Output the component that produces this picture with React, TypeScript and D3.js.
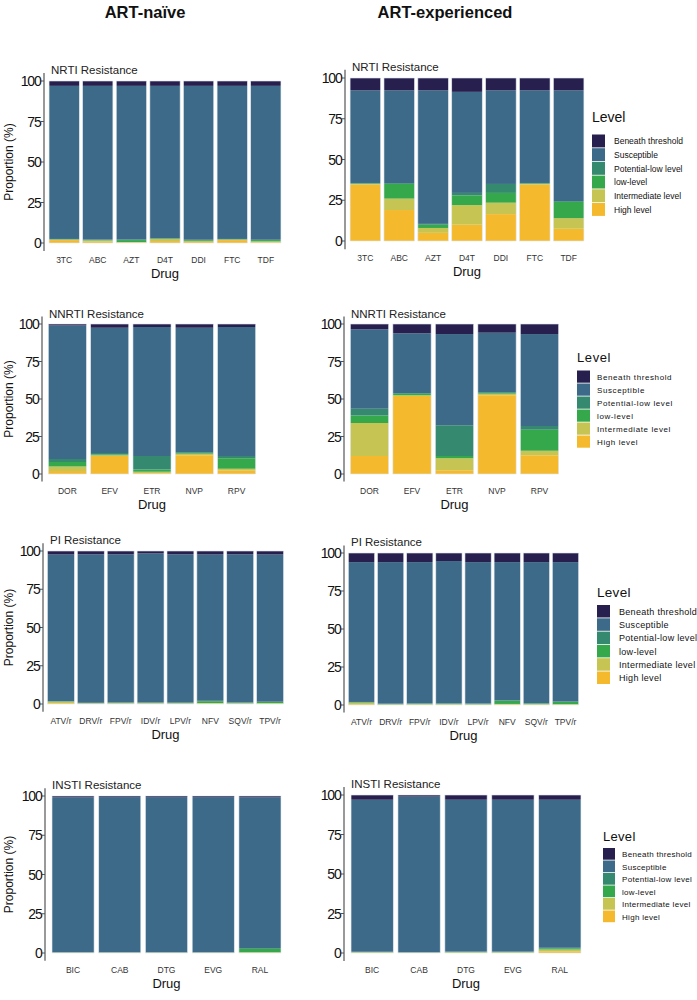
import React from "react";
import * as d3 from "d3";

// Stack order (bottom -> top)
const LEVELS = ["High level", "Intermediate level", "low-level", "Potential-low level", "Susceptible", "Beneath threshold"];
const LEVEL_COLORS = ["#f5b92e", "#c6c553", "#34a84a", "#35896f", "#3d6a88", "#27204f"];
const Y_TICKS = [0, 25, 50, 75, 100];

const NRTI_DRUGS = ["3TC", "ABC", "AZT", "D4T", "DDI", "FTC", "TDF"];
const NNRTI_DRUGS = ["DOR", "EFV", "ETR", "NVP", "RPV"];
const PI_DRUGS = ["ATV/r", "DRV/r", "FPV/r", "IDV/r", "LPV/r", "NFV", "SQV/r", "TPV/r"];
const INSTI_DRUGS = ["BIC", "CAB", "DTG", "EVG", "RAL"];

// each row: one drug; columns in LEVELS order (percent)
const NRTI_NAIVE = [
  [1.8, 0.3, 0.2, 0.2, 94.5, 3.0],
  [0.8, 0.8, 0.3, 0.2, 94.9, 3.0],
  [0.3, 0.3, 1.2, 0.3, 94.9, 3.0],
  [1.2, 1.2, 0.3, 0.3, 94.0, 3.0],
  [0.6, 0.6, 0.5, 0.3, 95.0, 3.0],
  [1.8, 0.3, 0.2, 0.2, 94.5, 3.0],
  [0.4, 0.6, 0.8, 0.2, 95.0, 3.0],
];
const NRTI_EXP = [
  [34.5, 0.5, 0.3, 0.3, 56.8, 7.6],
  [19.0, 7.0, 9.0, 0.5, 56.9, 7.6],
  [5.0, 3.0, 2.0, 0.5, 81.9, 7.6],
  [10.0, 12.0, 6.0, 1.5, 62.0, 8.5],
  [16.5, 7.0, 6.0, 5.5, 57.4, 7.6],
  [34.5, 0.5, 0.3, 0.3, 56.8, 7.6],
  [7.5, 6.5, 10.0, 0.5, 67.9, 7.6],
];
const NNRTI_NAIVE = [
  [2.0, 3.0, 3.0, 2.0, 89.0, 1.0],
  [12.0, 0.5, 0.5, 1.0, 83.5, 2.5],
  [0.5, 1.0, 1.5, 9.0, 86.0, 2.0],
  [12.5, 1.0, 0.5, 0.5, 83.0, 2.5],
  [2.5, 1.0, 7.0, 1.5, 86.0, 2.0],
];
const NNRTI_EXP = [
  [12.0, 22.0, 5.0, 4.5, 53.0, 3.5],
  [52.0, 0.5, 1.0, 0.5, 39.8, 6.2],
  [2.5, 8.0, 1.5, 20.5, 60.8, 6.7],
  [52.5, 1.0, 0.5, 0.5, 39.7, 5.8],
  [12.5, 3.0, 14.0, 2.5, 61.3, 6.7],
];
const PI_NAIVE = [
  [0.5, 1.0, 0.2, 0.2, 95.8, 2.3],
  [0.2, 0.2, 0.2, 0.2, 97.0, 2.2],
  [0.2, 0.3, 0.3, 0.2, 96.8, 2.2],
  [0.2, 0.3, 0.3, 0.2, 97.4, 1.6],
  [0.2, 0.2, 0.3, 0.2, 96.9, 2.2],
  [0.3, 0.3, 1.2, 0.3, 95.6, 2.3],
  [0.2, 0.2, 0.4, 0.2, 96.8, 2.2],
  [0.2, 0.3, 0.8, 0.2, 96.2, 2.3],
];
const PI_EXP = [
  [0.5, 1.0, 0.3, 0.2, 92.0, 6.0],
  [0.2, 0.2, 0.3, 0.2, 93.1, 6.0],
  [0.2, 0.3, 0.4, 0.2, 92.9, 6.0],
  [0.2, 0.3, 0.4, 0.2, 93.6, 5.3],
  [0.2, 0.2, 0.4, 0.2, 93.0, 6.0],
  [0.3, 0.4, 2.0, 0.3, 91.0, 6.0],
  [0.2, 0.3, 0.5, 0.2, 92.8, 6.0],
  [0.2, 0.3, 1.5, 0.3, 91.7, 6.0],
];
const INSTI_NAIVE = [
  [0.1, 0.1, 0.1, 0.1, 98.8, 0.8],
  [0.1, 0.1, 0.1, 0.1, 98.9, 0.7],
  [0.1, 0.1, 0.1, 0.1, 98.9, 0.7],
  [0.1, 0.1, 0.1, 0.1, 98.9, 0.7],
  [0.2, 0.2, 2.2, 0.5, 96.1, 0.8],
];
const INSTI_EXP = [
  [0.2, 0.2, 0.2, 0.2, 96.2, 3.0],
  [0.1, 0.1, 0.1, 0.1, 98.6, 1.0],
  [0.2, 0.2, 0.3, 0.2, 96.1, 3.0],
  [0.2, 0.2, 0.3, 0.2, 96.1, 3.0],
  [1.0, 1.2, 0.8, 0.3, 93.7, 3.0],
];

const FONT = "'Liberation Sans', Arial, Helvetica, sans-serif";

type PanelProps = {
  title: string;
  drugs: string[];
  values: number[][];
  ax: number;
  right: number;
  y100: number;
  y0: number;
  yTitle?: boolean;
};

function Panel({ title, drugs, values, ax, right, y100, y0, yTitle }: PanelProps) {
  const x = d3.scaleBand<string>().domain(drugs).range([ax, right]).paddingInner(0.1).paddingOuter(0.15);
  const y = d3.scaleLinear().domain([0, 100]).range([y0, y100]);
  const table = drugs.map((d, i) => {
    const o: any = { drug: d };
    LEVELS.forEach((l, j) => (o[l] = values[i][j]));
    return o;
  });
  const series = d3.stack<any>().keys(LEVELS)(table);
  return (
    <g>
      <text x={ax + 7} y={y(105) + 1} fontSize={11.5} fill="#222" fontFamily={FONT}>{title}</text>
      {series.map((s, si) => (
        <g key={si} fill={LEVEL_COLORS[si]}>
          {s.map((p: any, pi: number) => (
            <rect key={pi} x={x(p.data.drug)} width={x.bandwidth()} y={y(p[1])} height={Math.max(0, y(p[0]) - y(p[1]))} />
          ))}
        </g>
      ))}
      {drugs.map((d) => (
        <rect key={d} x={x(d)} width={x.bandwidth()} y={y(100)} height={y(0) - y(100)} fill="none" stroke="#dfe6ee" strokeWidth={0.6} />
      ))}
      <line x1={ax} x2={ax} y1={y(-5)} y2={y(105)} stroke="#555" strokeWidth={1.2} />
      {Y_TICKS.map((t) => (
        <g key={t}>
          <line x1={ax - 3} x2={ax} y1={y(t)} y2={y(t)} stroke="#555" strokeWidth={1} />
          <text x={ax - 3.5} y={y(t)} dy="0.36em" textAnchor="end" fontSize={14} letterSpacing={-1.2} fill="#111" fontFamily={FONT}>{t}</text>
        </g>
      ))}
      {drugs.map((d) => (
        <text key={d} x={(x(d) as number) + x.bandwidth() / 2} y={y0 + 17} dy="0.35em" textAnchor="middle" fontSize={8.5} fill="#333" fontFamily={FONT}>{d}</text>
      ))}
      <text x={(ax + right) / 2} y={y0 + 30} dy="0.35em" textAnchor="middle" fontSize={13} fill="#111" fontFamily={FONT}>Drug</text>
      {yTitle && (
        <text transform={`translate(9,${(y0 + y100) / 2}) rotate(-90)`} textAnchor="middle" dy="0.35em" fontSize={12} fill="#111" fontFamily={FONT}>Proportion (%)</text>
      )}
    </g>
  );
}

type LegendProps = { x: number; titleY: number; keyY0: number; keyH: number; keyW: number; textX: number; fs: number; ts: number; ls: number };

function Legend({ x, titleY, keyY0, keyH, keyW, textX, fs, ts, ls }: LegendProps) {
  const order = LEVELS.map((_, i) => LEVELS.length - 1 - i);
  return (
    <g fontFamily={FONT}>
      <text x={x} y={titleY} dy="0.35em" fontSize={ts} fill="#111" letterSpacing={ls}>Level</text>
      {order.map((li, k) => (
        <g key={li}>
          <rect x={x} y={keyY0 + k * keyH} width={keyW} height={keyH - 0.8} fill={LEVEL_COLORS[li]} />
          <text x={textX} y={keyY0 + k * keyH + keyH / 2} dy="0.35em" fontSize={fs} fill="#111" letterSpacing={ls}>{LEVELS[li]}</text>
        </g>
      ))}
    </g>
  );
}

export default function App() {
  return (
    <svg width={697} height={1000} style={{ position: "absolute", left: 0, top: 0, background: "#fff" }}>
      <rect width={697} height={1000} fill="#fff" />
      <text x={145} y={18} textAnchor="middle" fontSize={16.5} fontWeight="bold" fill="#111" fontFamily={FONT}>ART-naïve</text>
      <text x={445} y={18} textAnchor="middle" fontSize={16.5} fontWeight="bold" fill="#111" fontFamily={FONT}>ART-experienced</text>

      <Panel title="NRTI Resistance" drugs={NRTI_DRUGS} values={NRTI_NAIVE} ax={44} right={286} y100={81} y0={243} yTitle />
      <Panel title="NRTI Resistance" drugs={NRTI_DRUGS} values={NRTI_EXP} ax={345} right={589} y100={78} y0={241} />
      <Legend x={592} titleY={117} keyY0={134.5} keyH={13.7} keyW={13} textX={614} fs={8.5} ts={14} ls={0} />

      <Panel title="NNRTI Resistance" drugs={NNRTI_DRUGS} values={NNRTI_NAIVE} ax={42} right={262} y100={324} y0={474} yTitle />
      <Panel title="NNRTI Resistance" drugs={NNRTI_DRUGS} values={NNRTI_EXP} ax={344} right={565} y100={324} y0={474} />
      <Legend x={577} titleY={357} keyY0={370.5} keyH={13} keyW={13} textX={597} fs={8} ts={13} ls={0.6} />

      <Panel title="PI Resistance" drugs={PI_DRUGS} values={PI_NAIVE} ax={43} right={288} y100={551} y0={704} yTitle />
      <Panel title="PI Resistance" drugs={PI_DRUGS} values={PI_EXP} ax={344} right={583} y100={553} y0={705} />
      <Legend x={597} titleY={592} keyY0={605} keyH={13.3} keyW={13} textX={619} fs={9} ts={13.5} ls={0.3} />

      <Panel title="INSTI Resistance" drugs={INSTI_DRUGS} values={INSTI_NAIVE} ax={45} right={288} y100={796} y0={953} yTitle />
      <Panel title="INSTI Resistance" drugs={INSTI_DRUGS} values={INSTI_EXP} ax={344} right={588} y100={795} y0={953} />
      <Legend x={603} titleY={836} keyY0={848} keyH={12.5} keyW={12} textX={622} fs={8} ts={13} ls={0.3} />
    </svg>
  );
}
